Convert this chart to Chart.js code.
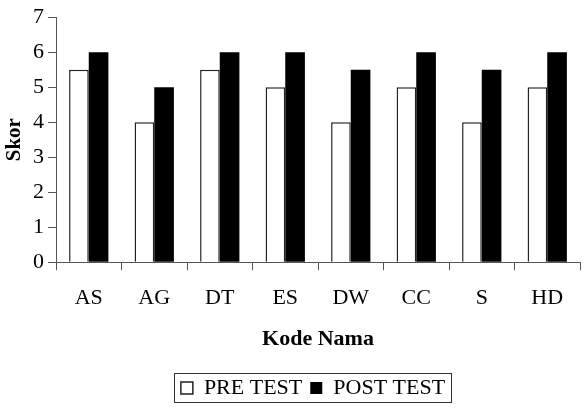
<!DOCTYPE html>
<html>
<head>
<meta charset="utf-8">
<script src="https://cdn.jsdelivr.net/npm/chart.js@4/dist/chart.umd.min.js"></script>
<style>
  html, body { margin: 0; padding: 0; background: #fff; }
  #wrap { width: 584px; height: 416px; }
</style>
</head>
<body>
<div id="wrap"><canvas id="skorChart" width="584" height="416"></canvas></div>
<script>
// data
const kodeNama = ["AS", "AG", "DT", "ES", "DW", "CC", "S", "HD"];
const preTest = [5.5, 4, 5.5, 5, 4, 5, 4, 5];
const postTest = [6, 5, 6, 6, 5.5, 6, 5.5, 6];
const yTicks = [0, 1, 2, 3, 4, 5, 6, 7];

const serif = "'Liberation Serif', 'Times New Roman', serif";

// the original legend sits a bit right of the page centre, with a frame round it
const legendFrame = {
  id: "legendFrame",
  afterLayout(chart) {
    const lg = chart.legend;
    if (!lg) return;
    lg.left += 22;
    lg.right += 22;
  },
  afterDraw(chart) {
    const boxes = chart.legend && chart.legend.legendHitBoxes;
    if (!boxes || !boxes.length) return;
    let l = Infinity, r = -Infinity, t = Infinity, b = -Infinity;
    boxes.forEach(h => {
      l = Math.min(l, h.left); r = Math.max(r, h.left + h.width);
      t = Math.min(t, h.top); b = Math.max(b, h.top + h.height);
    });
    const ctx = chart.ctx;
    ctx.save();
    ctx.strokeStyle = "#333";
    ctx.lineWidth = 1;
    ctx.strokeRect(Math.round(l - 7) + 0.5, Math.round(t - 4) + 0.5, Math.round(r - l + 13), Math.round(b - t + 7));
    ctx.restore();
  }
};

const ctx = document.getElementById("skorChart").getContext("2d");
new Chart(ctx, {
  type: "bar",
  data: {
    labels: kodeNama,
    datasets: [
      {
        label: "PRE TEST",
        data: preTest,
        backgroundColor: "#ffffff",
        borderColor: "#222",
        borderWidth: 1.5,
      },
      {
        label: "POST TEST",
        data: postTest,
        backgroundColor: "#000000",
        borderColor: "#000000",
        borderWidth: 0,
      },
    ],
  },
  options: {
    responsive: false,
    animation: false,
    devicePixelRatio: 1,
    layout: { padding: { top: 4, right: 4, left: 2, bottom: 7 } },
    datasets: {
      bar: { barPercentage: 1, categoryPercentage: 0.6 },
    },
    scales: {
      x: {
        grid: {
          offset: true,
          drawOnChartArea: false,
          tickLength: 8,
          color: "#555",
        },
        border: { color: "#555", width: 1 },
        ticks: {
          color: "#000",
          font: { family: serif, size: 22 },
          padding: 15,
        },
        title: {
          display: true,
          text: "Kode Nama",
          color: "#000",
          font: { family: serif, size: 22, weight: "bold" },
          padding: { top: 0, bottom: 16 },
        },
      },
      y: {
        min: 0,
        max: 7,
        afterBuildTicks(scale) {
          scale.ticks = yTicks.map(v => ({ value: v }));
        },
        afterFit(scale) { scale.width = 54; },
        grid: {
          drawOnChartArea: false,
          tickLength: 8,
          color: "#555",
        },
        border: { color: "#555", width: 1 },
        ticks: {
          color: "#000",
          font: { family: serif, size: 22 },
          padding: 4,
        },
        title: {
          display: true,
          text: "Skor",
          color: "#000",
          font: { family: serif, size: 21, weight: "bold" },
          padding: 0,
        },
      },
    },
    plugins: {
      legend: {
        position: "bottom",
        labels: {
          color: "#000",
          font: { family: serif, size: 22 },
          boxWidth: 12,
          boxHeight: 12,
          padding: 8,
        },
      },
      tooltip: { enabled: false },
    },
  },
  plugins: [legendFrame],
});
</script>
</body>
</html>
